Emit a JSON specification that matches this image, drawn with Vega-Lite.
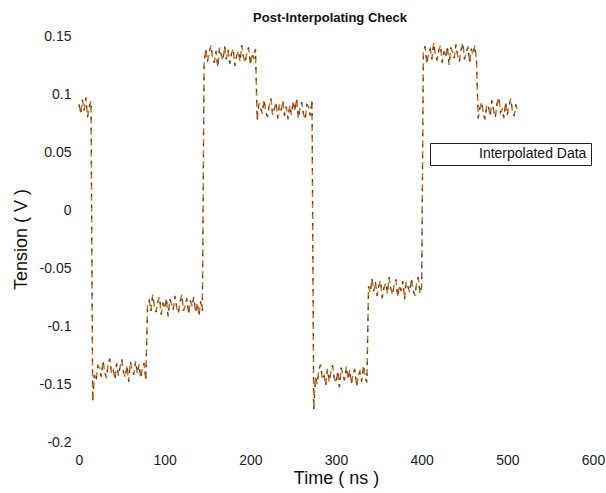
{
  "$schema": "https://vega.github.io/schema/vega-lite/v6.json",
  "autosize": "none",
  "width": 514,
  "height": 406,
  "padding": {"left": 79, "top": 36, "right": 13, "bottom": 51},
  "title": {"text": "Post-Interpolating Check", "fontSize": 13, "fontWeight": "bold", "font": "Liberation Sans", "color": "#111", "offset": 4, "anchor": "middle", "dx": -6},
  "config": {
    "view": {"stroke": null},
    "axis": {"domain": false, "ticks": false, "grid": false, "labelFlush": false, "labelFont": "Liberation Sans", "labelFontSize": 14, "labelColor": "#222", "titleFont": "Liberation Sans", "titleFontSize": 18, "titleFontWeight": "normal", "titleColor": "#111"}
  },
  "data": {"values": [
    {"t":0,"v":0.091},{"t":2,"v":0.083},{"t":4,"v":0.095},{"t":6,"v":0.086},{"t":8,"v":0.097},{"t":10,"v":0.080},{"t":12,"v":0.089},{"t":14,"v":0.094},
    {"t":16,"v":-0.165},
    {"t":18,"v":-0.142},{"t":20,"v":-0.147},{"t":22,"v":-0.134},{"t":24,"v":-0.136},{"t":26,"v":-0.144},{"t":28,"v":-0.130},{"t":30,"v":-0.139},{"t":32,"v":-0.145},{"t":34,"v":-0.133},{"t":36,"v":-0.128},{"t":38,"v":-0.141},{"t":40,"v":-0.138},{"t":42,"v":-0.146},{"t":44,"v":-0.132},{"t":46,"v":-0.143},{"t":48,"v":-0.135},{"t":50,"v":-0.129},{"t":52,"v":-0.140},{"t":54,"v":-0.144},{"t":56,"v":-0.134},{"t":58,"v":-0.148},{"t":60,"v":-0.131},{"t":62,"v":-0.137},{"t":64,"v":-0.142},{"t":66,"v":-0.130},{"t":68,"v":-0.141},{"t":70,"v":-0.133},{"t":72,"v":-0.145},{"t":74,"v":-0.136},{"t":76,"v":-0.132},{"t":78,"v":-0.147},
    {"t":80,"v":-0.082},{"t":82,"v":-0.078},{"t":84,"v":-0.087},{"t":86,"v":-0.073},{"t":88,"v":-0.083},{"t":90,"v":-0.088},{"t":92,"v":-0.079},{"t":94,"v":-0.075},{"t":96,"v":-0.090},{"t":98,"v":-0.080},{"t":100,"v":-0.085},{"t":102,"v":-0.076},{"t":104,"v":-0.092},{"t":106,"v":-0.077},{"t":108,"v":-0.081},{"t":110,"v":-0.086},{"t":112,"v":-0.074},{"t":114,"v":-0.084},{"t":116,"v":-0.089},{"t":118,"v":-0.079},{"t":120,"v":-0.073},{"t":122,"v":-0.087},{"t":124,"v":-0.082},{"t":126,"v":-0.076},{"t":128,"v":-0.090},{"t":130,"v":-0.078},{"t":132,"v":-0.083},{"t":134,"v":-0.075},{"t":136,"v":-0.088},{"t":138,"v":-0.080},{"t":140,"v":-0.091},{"t":142,"v":-0.079},{"t":144,"v":-0.087},
    {"t":146,"v":0.125},{"t":148,"v":0.139},{"t":150,"v":0.128},{"t":152,"v":0.136},{"t":154,"v":0.142},{"t":156,"v":0.131},{"t":158,"v":0.127},{"t":160,"v":0.137},{"t":162,"v":0.123},{"t":164,"v":0.140},{"t":166,"v":0.134},{"t":168,"v":0.129},{"t":170,"v":0.141},{"t":172,"v":0.130},{"t":174,"v":0.138},{"t":176,"v":0.126},{"t":178,"v":0.135},{"t":180,"v":0.139},{"t":182,"v":0.124},{"t":184,"v":0.133},{"t":186,"v":0.137},{"t":188,"v":0.128},{"t":190,"v":0.142},{"t":192,"v":0.132},{"t":194,"v":0.127},{"t":196,"v":0.136},{"t":198,"v":0.140},{"t":200,"v":0.125},{"t":202,"v":0.135},{"t":204,"v":0.130},{"t":206,"v":0.139},
    {"t":208,"v":0.077},{"t":210,"v":0.092},{"t":212,"v":0.088},{"t":214,"v":0.083},{"t":216,"v":0.095},{"t":218,"v":0.085},{"t":220,"v":0.080},{"t":222,"v":0.090},{"t":224,"v":0.096},{"t":226,"v":0.082},{"t":228,"v":0.087},{"t":230,"v":0.093},{"t":232,"v":0.079},{"t":234,"v":0.091},{"t":236,"v":0.086},{"t":238,"v":0.094},{"t":240,"v":0.081},{"t":242,"v":0.089},{"t":244,"v":0.078},{"t":246,"v":0.090},{"t":248,"v":0.082},{"t":250,"v":0.094},{"t":252,"v":0.085},{"t":254,"v":0.096},{"t":256,"v":0.079},{"t":258,"v":0.088},{"t":260,"v":0.093},{"t":262,"v":0.083},{"t":264,"v":0.078},{"t":266,"v":0.091},{"t":268,"v":0.089},{"t":270,"v":0.081},{"t":272,"v":0.095},
    {"t":274,"v":-0.172},
    {"t":276,"v":-0.144},{"t":278,"v":-0.150},{"t":280,"v":-0.138},{"t":282,"v":-0.133},{"t":284,"v":-0.146},{"t":286,"v":-0.143},{"t":288,"v":-0.151},{"t":290,"v":-0.137},{"t":292,"v":-0.148},{"t":294,"v":-0.140},{"t":296,"v":-0.134},{"t":298,"v":-0.145},{"t":300,"v":-0.149},{"t":302,"v":-0.139},{"t":304,"v":-0.153},{"t":306,"v":-0.136},{"t":308,"v":-0.142},{"t":310,"v":-0.147},{"t":312,"v":-0.135},{"t":314,"v":-0.146},{"t":316,"v":-0.138},{"t":318,"v":-0.150},{"t":320,"v":-0.141},{"t":322,"v":-0.137},{"t":324,"v":-0.152},{"t":326,"v":-0.143},{"t":328,"v":-0.139},{"t":330,"v":-0.148},{"t":332,"v":-0.134},{"t":334,"v":-0.144},{"t":336,"v":-0.149},
    {"t":338,"v":-0.066},{"t":340,"v":-0.071},{"t":342,"v":-0.059},{"t":344,"v":-0.070},{"t":346,"v":-0.062},{"t":348,"v":-0.074},{"t":350,"v":-0.065},{"t":352,"v":-0.061},{"t":354,"v":-0.076},{"t":356,"v":-0.067},{"t":358,"v":-0.063},{"t":360,"v":-0.072},{"t":362,"v":-0.058},{"t":364,"v":-0.068},{"t":366,"v":-0.073},{"t":368,"v":-0.064},{"t":370,"v":-0.060},{"t":372,"v":-0.075},{"t":374,"v":-0.065},{"t":376,"v":-0.070},{"t":378,"v":-0.061},{"t":380,"v":-0.077},{"t":382,"v":-0.062},{"t":384,"v":-0.066},{"t":386,"v":-0.071},{"t":388,"v":-0.059},{"t":390,"v":-0.069},{"t":392,"v":-0.074},{"t":394,"v":-0.064},{"t":396,"v":-0.058},{"t":398,"v":-0.072},{"t":400,"v":-0.066},
    {"t":402,"v":0.137},{"t":404,"v":0.141},{"t":406,"v":0.126},{"t":408,"v":0.135},{"t":410,"v":0.139},{"t":412,"v":0.130},{"t":414,"v":0.144},{"t":416,"v":0.134},{"t":418,"v":0.129},{"t":420,"v":0.138},{"t":422,"v":0.142},{"t":424,"v":0.127},{"t":426,"v":0.137},{"t":428,"v":0.132},{"t":430,"v":0.141},{"t":432,"v":0.125},{"t":434,"v":0.140},{"t":436,"v":0.136},{"t":438,"v":0.131},{"t":440,"v":0.143},{"t":442,"v":0.133},{"t":444,"v":0.128},{"t":446,"v":0.138},{"t":448,"v":0.144},{"t":450,"v":0.130},{"t":452,"v":0.135},{"t":454,"v":0.141},{"t":456,"v":0.127},{"t":458,"v":0.139},{"t":460,"v":0.134},{"t":462,"v":0.142},{"t":464,"v":0.129},
    {"t":466,"v":0.079},{"t":468,"v":0.088},{"t":470,"v":0.093},{"t":472,"v":0.083},{"t":474,"v":0.078},{"t":476,"v":0.091},{"t":478,"v":0.089},{"t":480,"v":0.081},{"t":482,"v":0.095},{"t":484,"v":0.086},{"t":486,"v":0.080},{"t":488,"v":0.092},{"t":490,"v":0.097},{"t":492,"v":0.084},{"t":494,"v":0.087},{"t":496,"v":0.079},{"t":498,"v":0.093},{"t":500,"v":0.082},{"t":502,"v":0.090},{"t":504,"v":0.096},{"t":506,"v":0.085},{"t":508,"v":0.081},{"t":510,"v":0.091},{"t":512,"v":0.084}
  ]},
  "encoding": {
    "x": {"field": "t", "type": "quantitative", "scale": {"domain": [0, 600], "nice": false, "zero": false},
          "axis": {"title": "Time ( ns )", "values": [0, 100, 200, 300, 400, 500, 600], "labelPadding": 11, "titlePadding": 2}},
    "y": {"field": "v", "type": "quantitative", "scale": {"domain": [-0.2, 0.15], "nice": false, "zero": false},
          "axis": {"title": "Tension ( V )", "values": [-0.2, -0.15, -0.1, -0.05, 0, 0.05, 0.1, 0.15], "labelPadding": 8, "titlePadding": 9,
                   "labelExpr": "replace(format(datum.value, '~g'), '\u2212', '-')"}}
  },
  "layer": [
    {
      "mark": {"type": "line", "strokeWidth": 1.5, "strokeDash": [7, 4]},
      "encoding": {
        "color": {"datum": "Interpolated Data", "type": "nominal",
                  "scale": {"range": ["#c4712f"]},
                  "legend": {"title": null, "orient": "none", "legendX": 351, "legendY": 107,
                             "strokeColor": "#222", "fillColor": "#ffffff", "padding": 4,
                             "symbolOpacity": 0, "symbolType": "stroke", "symbolSize": 100, "labelOffset": 31,
                             "labelFont": "Liberation Sans", "labelFontSize": 14, "labelColor": "#111"}}
      }
    },
    {
      "mark": {"type": "line", "strokeWidth": 1, "strokeDash": [3, 8], "color": "#4a3525", "opacity": 0.9}
    }
  ]
}
